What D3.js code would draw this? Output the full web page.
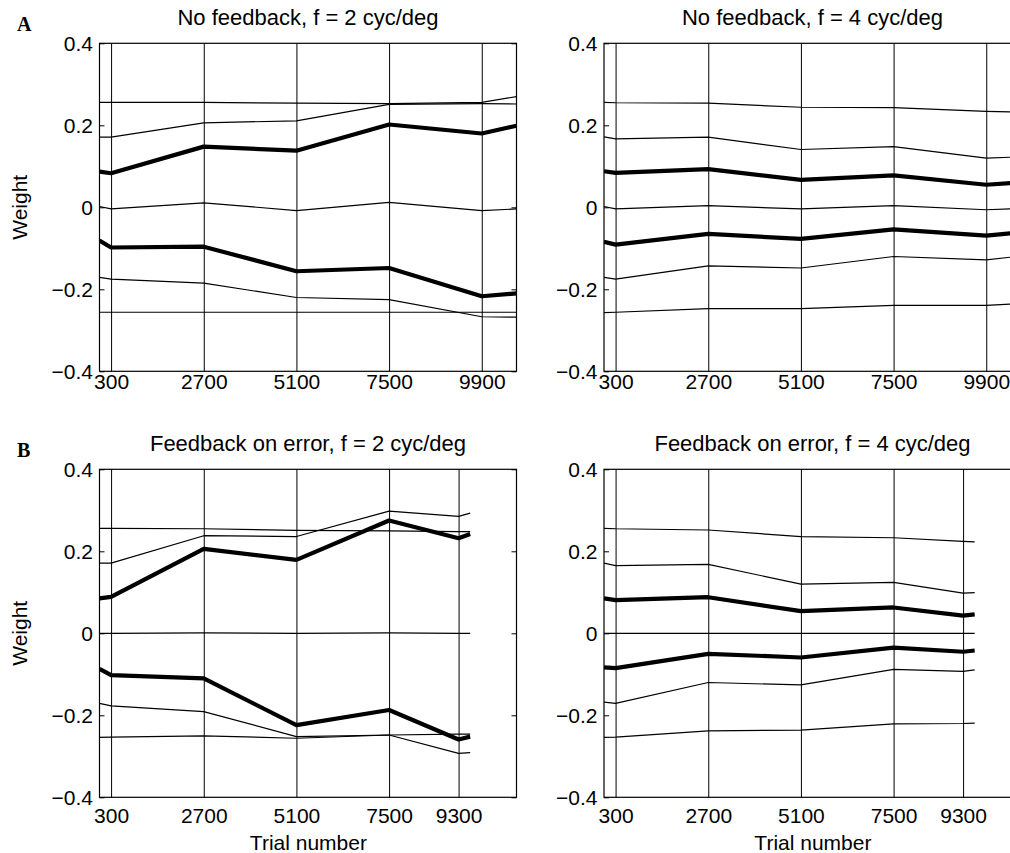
<!DOCTYPE html>
<html>
<head>
<meta charset="utf-8">
<script src="https://cdn.jsdelivr.net/npm/d3@7"></script>
<style>
  html, body { margin: 0; padding: 0; background: #fff; }
  svg { display: block; }
  text { font-family: "Liberation Sans", Arial, Helvetica, sans-serif; fill: #000; }
  .panel-letter { font-family: "Liberation Serif", "Times New Roman", serif; font-weight: bold; }
</style>
</head>
<body>
<svg id="fig" width="1010" height="853"></svg>
<script>
// Breakpoints (trial numbers) of the piecewise-linear weight trajectories
const trialsNoFeedback = [0, 300, 2700, 5100, 7500, 9900, 10800];
const trialsFeedback   = [0, 300, 2700, 5100, 7500, 9300, 9600];

// Tick labels on the trial axis
const ticksNoFeedback = [300, 2700, 5100, 7500, 9900];
const ticksFeedback   = [300, 2700, 5100, 7500, 9300];
const weightTicks = [-0.4, -0.2, 0, 0.2, 0.4];

// Weight trajectories, seven per panel, listed from top to bottom
const noFeedback2 = [
  [0.256, 0.256, 0.256, 0.254, 0.253, 0.256, 0.270],
  [0.171, 0.171, 0.206, 0.211, 0.251, 0.253, 0.252],
  [0.087, 0.083, 0.148, 0.138, 0.202, 0.180, 0.199],
  [0.002, -0.004, 0.011, -0.008, 0.012, -0.008, -0.004],
  [-0.081, -0.098, -0.096, -0.156, -0.148, -0.217, -0.210],
  [-0.171, -0.175, -0.185, -0.220, -0.225, -0.267, -0.268],
  [-0.256, -0.256, -0.256, -0.256, -0.256, -0.256, -0.256]
];
const noFeedback4 = [
  [0.256, 0.255, 0.254, 0.244, 0.243, 0.234, 0.232],
  [0.172, 0.167, 0.171, 0.141, 0.148, 0.120, 0.123],
  [0.088, 0.084, 0.093, 0.067, 0.078, 0.055, 0.061],
  [0.002, -0.004, 0.004, -0.004, 0.004, -0.006, -0.003],
  [-0.084, -0.091, -0.065, -0.077, -0.054, -0.069, -0.061],
  [-0.171, -0.175, -0.143, -0.148, -0.120, -0.128, -0.119],
  [-0.257, -0.256, -0.247, -0.247, -0.239, -0.239, -0.235]
];
const feedbackError2 = [
  [0.256, 0.256, 0.255, 0.251, 0.250, 0.248, 0.248],
  [0.171, 0.171, 0.238, 0.236, 0.298, 0.285, 0.293],
  [0.085, 0.089, 0.206, 0.179, 0.275, 0.232, 0.242],
  [0.000, 0.000, 0.001, 0.000, 0.001, 0.000, 0.000],
  [-0.087, -0.102, -0.110, -0.224, -0.187, -0.259, -0.252],
  [-0.171, -0.177, -0.191, -0.252, -0.248, -0.293, -0.291],
  [-0.254, -0.253, -0.250, -0.256, -0.248, -0.246, -0.246]
];
const feedbackError4 = [
  [0.256, 0.255, 0.252, 0.236, 0.233, 0.224, 0.223],
  [0.171, 0.165, 0.168, 0.120, 0.124, 0.098, 0.099],
  [0.085, 0.081, 0.088, 0.054, 0.063, 0.043, 0.046],
  [0.000, 0.000, 0.000, 0.000, 0.000, 0.000, 0.000],
  [-0.083, -0.085, -0.050, -0.059, -0.035, -0.045, -0.042],
  [-0.168, -0.171, -0.120, -0.126, -0.088, -0.093, -0.089],
  [-0.254, -0.253, -0.238, -0.236, -0.221, -0.220, -0.219]
];

const svg = d3.select("#fig");
const fmt = d => (d < 0 ? "\u2212" : "") + (d === 0 ? "0" : Math.abs(d).toFixed(1));

// Indices of the mean trajectories, drawn heavier than the others
const heavy = new Set([2, 4]);

const panels = [
  { left: 99.5, top: 43.3, title: "No feedback, f = 2 cyc/deg", trials: trialsNoFeedback, ticks: ticksNoFeedback, series: noFeedback2, letter: "A", ylabel: true, xlabel: false, pad: 3 },
  { left: 604,  top: 43.3, title: "No feedback, f = 4 cyc/deg", trials: trialsNoFeedback, ticks: ticksNoFeedback, series: noFeedback4, ylabel: false, xlabel: false, pad: 3 },
  { left: 99.5, top: 469.3, title: "Feedback on error, f = 2 cyc/deg", trials: trialsFeedback, ticks: ticksFeedback, series: feedbackError2, letter: "B", ylabel: true, xlabel: true, pad: 11 },
  { left: 604,  top: 469.3, title: "Feedback on error, f = 4 cyc/deg", trials: trialsFeedback, ticks: ticksFeedback, series: feedbackError4, ylabel: false, xlabel: true, pad: 11 }
];

const W = 417, H = 328;

panels.forEach((p, pi) => {
  const g = svg.append("g").attr("transform", `translate(${p.left},${p.top})`);
  const x = d3.scaleLinear().domain([0, 10800]).range([0, W]);
  const y = d3.scaleLinear().domain([-0.4, 0.4]).range([H, 0]);

  const clipId = "clip" + pi;
  g.append("clipPath").attr("id", clipId)
    .append("rect").attr("x", 0).attr("y", 0).attr("width", W).attr("height", H);

  // trial axis with full-height grid lines
  const xa = g.append("g").attr("transform", `translate(0,${H})`)
    .call(d3.axisBottom(x).tickValues(p.ticks).tickSize(-H).tickSizeOuter(0).tickPadding(p.pad).tickFormat(d3.format("d")));
  xa.select(".domain").remove();
  xa.selectAll("line").attr("stroke", "#000").attr("stroke-width", 1);
  xa.selectAll("text").attr("font-size", 21);

  // weight axis, inward ticks on both sides
  const ya = g.append("g")
    .call(d3.axisLeft(y).tickValues(weightTicks).tickSize(-5).tickSizeOuter(0).tickPadding(6.5).tickFormat(fmt));
  ya.select(".domain").remove();
  ya.selectAll("line").attr("stroke", "#000");
  ya.selectAll("text").attr("font-size", 21);

  const yr = g.append("g").attr("transform", `translate(${W},0)`)
    .call(d3.axisRight(y).tickValues(weightTicks).tickSize(-5).tickSizeOuter(0).tickFormat(""));
  yr.select(".domain").remove();
  yr.selectAll("line").attr("stroke", "#000");

  // weight trajectories
  const line = d3.line().x((d, i) => x(p.trials[i])).y(d => y(d));
  g.append("g").attr("clip-path", `url(#${clipId})`)
    .selectAll("path").data(p.series).join("path")
    .attr("d", line)
    .attr("fill", "none")
    .attr("stroke", "#000")
    .attr("stroke-width", (d, i) => heavy.has(i) ? 4.2 : 1.2)
    .attr("stroke-linejoin", "round");

  // frame
  g.append("rect").attr("x", 0).attr("y", 0).attr("width", W).attr("height", H)
    .attr("fill", "none").attr("stroke", "#000").attr("stroke-width", 1.2);

  // title
  g.append("text").attr("x", W / 2).attr("y", -18.5)
    .attr("text-anchor", "middle").attr("font-size", 22).text(p.title);

  if (p.letter) {
    svg.append("text").attr("class", "panel-letter")
      .attr("x", 17).attr("y", p.top - 12).attr("font-size", 20).text(p.letter);
  }
  if (p.ylabel) {
    svg.append("text").attr("transform", `translate(27,${p.top + H / 2}) rotate(-90)`)
      .attr("text-anchor", "middle").attr("font-size", 21).text("Weight");
  }
  if (p.xlabel) {
    g.append("text").attr("x", x(5100) + 12).attr("y", H + 52.5)
      .attr("text-anchor", "middle").attr("font-size", 21).text("Trial number");
  }
});
</script>
</body>
</html>
